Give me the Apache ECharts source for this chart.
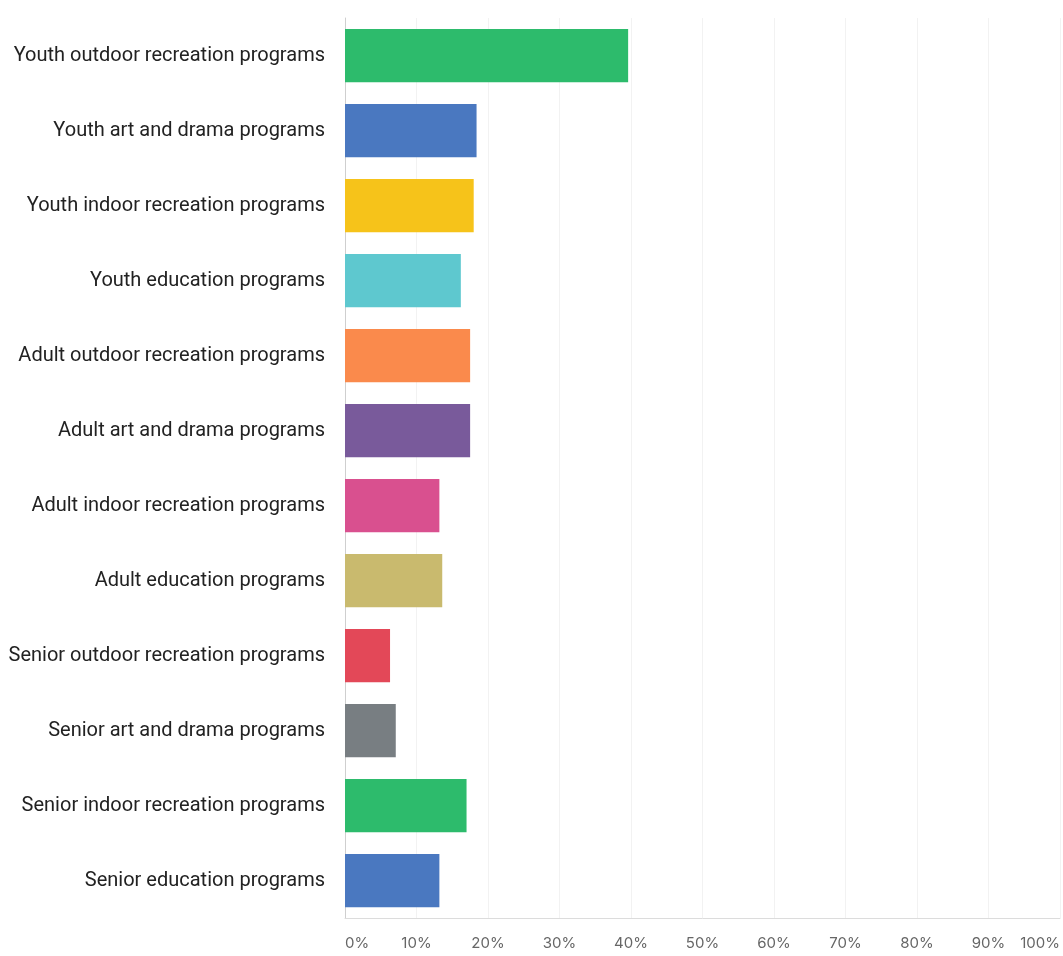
<!DOCTYPE html>
<html>
<head>
<meta charset="utf-8">
<script src="https://cdn.jsdelivr.net/npm/echarts@6/dist/echarts.min.js"></script>
<style>
  html, body { margin: 0; padding: 0; background: #fff; }
  #chart { width: 1063px; height: 956px; }
</style>
</head>
<body>
<div id="chart"></div>
<script>
// categories, top to bottom
const categories = [
    'Youth outdoor recreation programs',
    'Youth art and drama programs',
    'Youth indoor recreation programs',
    'Youth education programs',
    'Adult outdoor recreation programs',
    'Adult art and drama programs',
    'Adult indoor recreation programs',
    'Adult education programs',
    'Senior outdoor recreation programs',
    'Senior art and drama programs',
    'Senior indoor recreation programs',
    'Senior education programs'
];

// percent of respondents
const values = [39.6, 18.4, 18.0, 16.2, 17.5, 17.5, 13.2, 13.6, 6.3, 7.1, 17.0, 13.2];

const colors = [
    '#2dbb6c', '#4a78c0', '#f6c31a', '#5ec8cf', '#fa8a4c', '#795a9b',
    '#d9508f', '#c9ba6e', '#e34858', '#787e82', '#2dbb6c', '#4a78c0'
];

const chart = echarts.init(document.getElementById('chart'));

chart.setOption({
    animation: false,
    grid: {
        left: 345,
        right: 0,
        top: 18,
        bottom: 38,
        containLabel: false
    },
    xAxis: {
        type: 'value',
        min: 0,
        max: 100,
        interval: 10,
        axisLine: { show: true, lineStyle: { color: '#dcdcdc', width: 1 } },
        axisTick: { show: false },
        splitLine: { show: true, lineStyle: { color: '#f2f2f2', width: 1 } },
        axisLabel: {
            formatter: '{value}%',
            color: '#666',
            fontFamily: 'Inter',
            fontSize: 15,
            margin: 18,
            alignMinLabel: 'left',
            alignMaxLabel: 'right'
        }
    },
    yAxis: {
        type: 'category',
        data: categories,
        inverse: true,
        axisLine: { show: true, lineStyle: { color: '#cfcfcf', width: 1 } },
        axisTick: { show: false },
        axisLabel: {
            color: '#222',
            fontFamily: 'Roboto',
            fontSize: 20,
            margin: 20
        }
    },
    series: [{
        type: 'bar',
        data: values.map((v, i) => ({ value: v, itemStyle: { color: colors[i] } })),
        barCategoryGap: '29%'
    }]
});
</script>
</body>
</html>
